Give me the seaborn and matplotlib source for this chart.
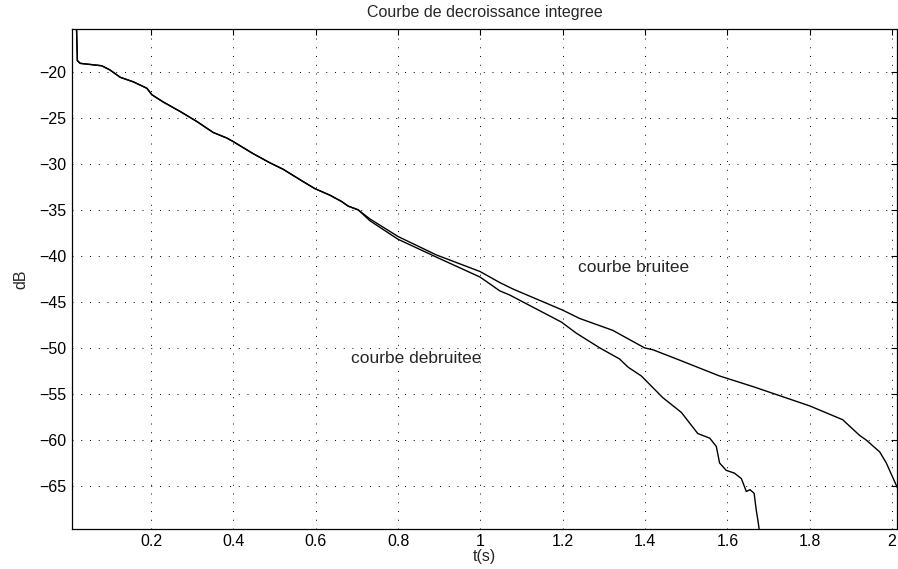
import matplotlib
matplotlib.use("Agg")
import matplotlib.pyplot as plt
import seaborn as sns
import pandas as pd
import numpy as np
from matplotlib.ticker import FormatStrFormatter

# Shared initial part of both curves
t_common = [0.008, 0.019, 0.021, 0.028, 0.05, 0.080, 0.10, 0.125, 0.157, 0.19, 0.202, 0.23,
            0.27, 0.311, 0.351, 0.384, 0.40, 0.448, 0.489, 0.521, 0.570, 0.598, 0.634,
            0.663, 0.679, 0.703]
db_common = [-15.36, -15.36, -18.8, -19.09, -19.2, -19.35, -19.8, -20.6, -21.1, -21.8, -22.5,
             -23.3, -24.3, -25.4, -26.6, -27.2, -27.6, -28.9, -29.9, -30.6, -31.95, -32.7,
             -33.4, -34.1, -34.6, -35.0]

# Noisy curve (courbe bruitee) after separation
t_bruitee = [0.732, 0.80, 0.893, 0.999, 1.047, 1.079, 1.2, 1.241, 1.322, 1.338, 1.399, 1.419,
             1.488, 1.533, 1.581, 1.662, 1.80, 1.872, 1.88, 1.921, 1.937, 1.97, 1.986, 2.013]
db_bruitee = [-36.0, -37.9, -39.9, -41.7, -42.9, -43.6, -45.9, -46.8, -48.1, -48.5, -50.0, -50.2,
              -51.4, -52.2, -53.05, -54.2, -56.3, -57.65, -57.8, -59.5, -60.0, -61.3, -62.5, -65.2]

# Denoised curve (courbe debruitee) after separation
t_debruitee = [0.732, 0.80, 0.901, 0.999, 1.047, 1.071, 1.197, 1.233, 1.29, 1.338, 1.359, 1.391,
               1.443, 1.488, 1.528, 1.557, 1.573, 1.581, 1.597, 1.617, 1.634, 1.646, 1.655,
               1.665, 1.67, 1.674, 1.677]
db_debruitee = [-36.2, -38.2, -40.3, -42.3, -43.8, -44.25, -47.2, -48.4, -50.0, -51.2, -52.1,
                -53.05, -55.4, -57.0, -59.3, -59.8, -60.7, -62.5, -63.3, -63.6, -64.2, -65.6,
                -65.4, -65.8, -67.6, -68.7, -69.64]

x_ticks = [0.2, 0.4, 0.6, 0.8, 1.0, 1.2, 1.4, 1.6, 1.8, 2.0]
y_ticks = [-20, -25, -30, -35, -40, -45, -50, -55, -60, -65]

sns.set_style("white")
plt.rcParams['font.family'] = ['Liberation Sans', 'DejaVu Sans']
FS = 11.5
plt.rcParams['font.size'] = FS

df_b = pd.DataFrame({"t": t_common + t_bruitee, "dB": db_common + db_bruitee})
df_d = pd.DataFrame({"t": t_common + t_debruitee, "dB": db_common + db_debruitee})

fig = plt.figure(figsize=(8.98, 5.69), dpi=100)
ax = fig.add_axes([0.0802, 0.0708, 0.9187, 0.8782])

sns.lineplot(data=df_b, x="t", y="dB", sort=False, estimator=None, color="black", lw=1.0, ax=ax)
sns.lineplot(data=df_d, x="t", y="dB", sort=False, estimator=None, color="black", lw=1.0, ax=ax)

ax.set_xlim(0.008, 2.012)
ax.set_ylim(-69.64, -15.36)
ax.set_xticks(x_ticks)
ax.set_yticks(y_ticks)
ax.xaxis.set_major_formatter(FormatStrFormatter('%g'))
ax.grid(True, color='black', linestyle=(0, (1, 8)), linewidth=0.7)
ax.tick_params(direction='in', length=4, width=0.8, top=True, right=True,
               labelsize=FS, colors='black', pad=4)
for s in ax.spines.values():
    s.set_visible(True)
    s.set_color('black')
    s.set_linewidth(0.9)

ax.set_title("Courbe de decroissance integree", fontsize=FS, pad=9)
ax.set_xlabel("t(s)", fontsize=FS, labelpad=0)
ax.set_ylabel("dB", fontsize=FS, labelpad=8)

ax.text(1.237, -41.25, "courbe bruitee", fontsize=12.5, ha='left', va='center')
ax.text(0.685, -51.1, "courbe debruitee", fontsize=12.5, ha='left', va='center')

fig.savefig("out.png", dpi=100)
